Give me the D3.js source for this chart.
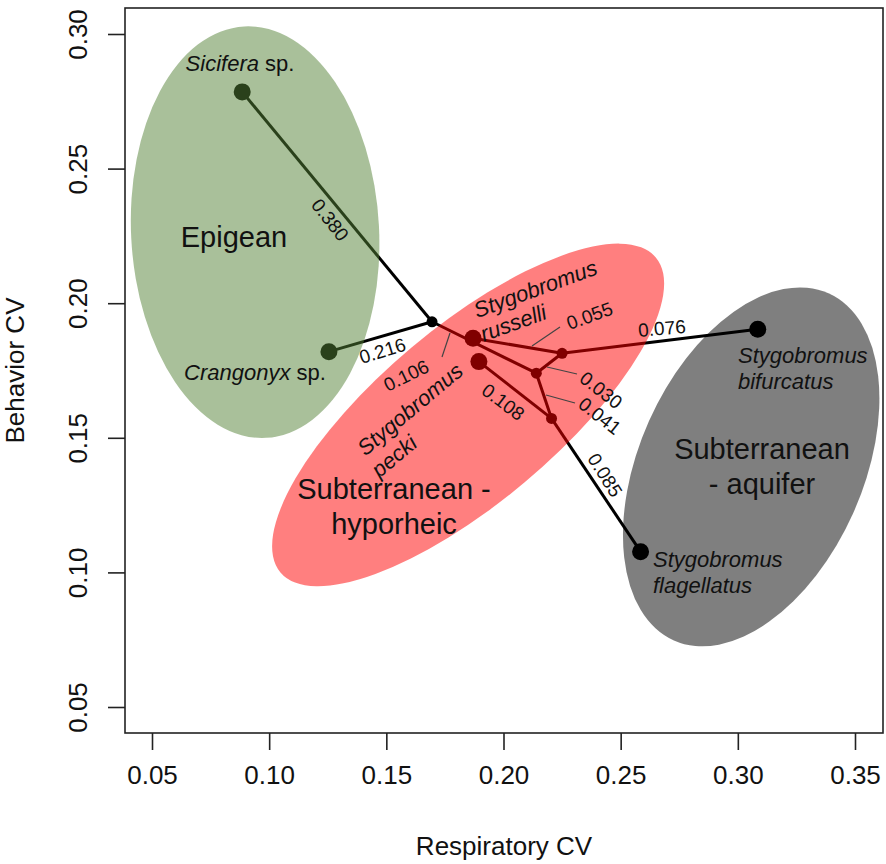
<!DOCTYPE html>
<html>
<head>
<meta charset="utf-8">
<script src="https://cdn.jsdelivr.net/npm/d3@7"></script>
<style>
  body { margin: 0; background: #fff; }
  text { font-family: "Liberation Sans", Arial, sans-serif; }
</style>
</head>
<body>
<div id="chart"></div>
<script>
// tick values
var xTicks = [0.05, 0.10, 0.15, 0.20, 0.25, 0.30, 0.35];
var yTicks = [0.05, 0.10, 0.15, 0.20, 0.25, 0.30];

// tree nodes: respiratory CV, behavior CV
var nodeIds  = ["sicifera", "crangonyx", "J", "russelli", "pecki", "A", "B", "C", "bifurcatus", "flagellatus"];
var respCV   = [0.0885, 0.1255, 0.1695, 0.1870, 0.1895, 0.2250, 0.2140, 0.2205, 0.3085, 0.2585];
var behavCV  = [0.2785, 0.1820, 0.1931, 0.1870, 0.1783, 0.1814, 0.1740, 0.1572, 0.1903, 0.1077];
var isTip    = [true, true, false, true, true, false, false, false, true, true];

// tree edges and branch lengths
var edgeFrom = ["J", "J", "J", "B", "A", "A", "B", "C", "C"];
var edgeTo   = ["sicifera", "crangonyx", "B", "A", "russelli", "bifurcatus", "C", "pecki", "flagellatus"];
var edgeLen  = ["0.380", "0.216", "0.106", "0.030", "0.055", "0.076", "0.041", "0.108", "0.085"];

// habitat groups (centre in data units)
var groupNames = ["Epigean", "Subterranean - hyporheic", "Subterranean - aquifer"];
var groupCx = [0.0940, 0.1849, 0.3057];
var groupCy = [0.2264, 0.1585, 0.1392];

var W = 886, H = 864;
var svg = d3.select("#chart").append("svg").attr("width", W).attr("height", H);

var x = d3.scaleLinear().domain([0.05, 0.35]).range([152, 855]);
var y = d3.scaleLinear().domain([0.05, 0.30]).range([707, 34]);
var box = { l: 125, r: 883, t: 8, b: 733 };

var nodes = {};
nodeIds.forEach(function(id, i) {
  nodes[id] = { x: respCV[i], y: behavCV[i], tip: isTip[i] };
});

// ---- tree (drawn under the shaded groups)
var tree = svg.append("g");
edgeFrom.forEach(function(f, i) {
  var a = nodes[f], b = nodes[edgeTo[i]];
  tree.append("line")
    .attr("x1", x(a.x)).attr("y1", y(a.y))
    .attr("x2", x(b.x)).attr("y2", y(b.y))
    .attr("stroke", "#000").attr("stroke-width", 3);
});
nodeIds.forEach(function(id) {
  var n = nodes[id];
  tree.append("circle")
    .attr("cx", x(n.x)).attr("cy", y(n.y))
    .attr("r", n.tip ? 8.5 : 5.5)
    .attr("fill", "#000");
});

// ---- shaded habitat ellipses (semi-transparent, on top of tree)
var groupStyle = [
  { rx: 124, ry: 206, rot: -3, fill: "rgb(84,130,53)" },
  { rx: 245, ry: 88, rot: -40, fill: "rgb(255,0,0)" },
  { rx: 112, ry: 190, rot: 24, fill: "rgb(0,0,0)" }
];
groupNames.forEach(function(g, i) {
  var s = groupStyle[i];
  svg.append("ellipse")
    .attr("transform", "translate(" + x(groupCx[i]) + "," + y(groupCy[i]) + ") rotate(" + s.rot + ")")
    .attr("rx", s.rx).attr("ry", s.ry)
    .attr("fill", s.fill).attr("fill-opacity", 0.5);
});

// ---- plot frame and axes
svg.append("rect")
  .attr("x", box.l).attr("y", box.t)
  .attr("width", box.r - box.l).attr("height", box.b - box.t)
  .attr("fill", "none").attr("stroke", "#222").attr("stroke-width", 1.6);

var xAxis = svg.append("g").attr("transform", "translate(0," + box.b + ")")
  .call(d3.axisBottom(x).tickValues(xTicks).tickFormat(d3.format(".2f")).tickSize(17).tickPadding(16));
var yAxis = svg.append("g").attr("transform", "translate(" + box.l + ",0)")
  .call(d3.axisLeft(y).tickValues(yTicks).tickFormat(d3.format(".2f")).tickSize(17));
[xAxis, yAxis].forEach(function(ax) {
  ax.select(".domain").remove();
  ax.selectAll(".tick line").attr("stroke", "#222").attr("stroke-width", 1.6);
  ax.selectAll("text").attr("font-size", 26).attr("fill", "#111")
    .attr("font-family", "Liberation Sans, Arial, sans-serif");
});
xAxis.selectAll("text").attr("dy", "0.71em");
yAxis.selectAll("text")
  .attr("x", null).attr("dy", null)
  .attr("text-anchor", "middle")
  .attr("transform", "translate(-38,0) rotate(-90)");

svg.append("text").attr("x", (box.l + box.r) / 2).attr("y", 855)
  .attr("text-anchor", "middle").attr("font-size", 26).attr("fill", "#111")
  .text("Respiratory CV");
svg.append("text")
  .attr("transform", "translate(24," + (box.t + box.b) / 2 + ") rotate(-90)")
  .attr("text-anchor", "middle").attr("font-size", 26).attr("fill", "#111")
  .text("Behavior CV");

// ---- branch length labels (pixel offsets from edge midpoint)
var edgeLabelPos = {
  "0.380": { dx: -7, dy: 13, rot: 52 },
  "0.216": { dx: 2, dy: 14, rot: -17 },
  "0.106": { dx: -78, dy: 28, rot: -26, leader: [[442, 357], [450, 333]] },
  "0.030": { dx: 52, dy: 27, rot: 38, leader: [[547, 367], [577, 374]] },
  "0.055": { dx: 72, dy: -30, rot: -20, leader: [[532, 346], [560, 327]] },
  "0.076": { dx: 2, dy: -13, rot: -5 },
  "0.041": { dx: 56, dy: 20, rot: 38 },
  "0.108": { dx: -12, dy: 12, rot: 37 },
  "0.085": { dx: 9, dy: -10, rot: 58 }
};
edgeLabelPos["0.041"].leader = [[546, 395], [575, 403]];

edgeFrom.forEach(function(f, i) {
  var a = nodes[f], b = nodes[edgeTo[i]];
  var p = edgeLabelPos[edgeLen[i]];
  var mx = (x(a.x) + x(b.x)) / 2 + p.dx, my = (y(a.y) + y(b.y)) / 2 + p.dy;
  if (p.leader) {
    svg.append("line")
      .attr("x1", p.leader[0][0]).attr("y1", p.leader[0][1])
      .attr("x2", p.leader[1][0]).attr("y2", p.leader[1][1])
      .attr("stroke", "#444").attr("stroke-width", 1.2);
  }
  svg.append("text")
    .attr("transform", "translate(" + mx + "," + my + ") rotate(" + p.rot + ")")
    .attr("text-anchor", "middle").attr("dy", "0.35em")
    .attr("font-size", 19).attr("fill", "#111")
    .text(edgeLen[i]);
});

// ---- species labels
function speciesLabel(px, py, rot, anchor, lines) {
  var t = svg.append("text")
    .attr("transform", "translate(" + px + "," + py + ") rotate(" + rot + ")")
    .attr("text-anchor", anchor).attr("font-size", 22).attr("fill", "#111");
  lines.forEach(function(ln, k) {
    var row = t.append("tspan").attr("x", 0).attr("dy", k === 0 ? 0 : 26);
    row.append("tspan").attr("font-style", "italic").text(ln[0]);
    if (ln[1]) row.append("tspan").text(ln[1]);
  });
}
speciesLabel(240, 71, 0, "middle", [["Sicifera", " sp."]]);
speciesLabel(255, 380, 0, "middle", [["Crangonyx", " sp."]]);
speciesLabel(538, 296, -20, "middle", [["Stygobromus"]]);
speciesLabel(516, 330, -20, "middle", [["russelli"]]);
speciesLabel(415, 415, -40, "middle", [["Stygobromus"]]);
speciesLabel(399, 462, -40, "middle", [["pecki"]]);
speciesLabel(738, 363, 0, "start", [["Stygobromus"], ["bifurcatus"]]);
speciesLabel(653, 567, 0, "start", [["Stygobromus"], ["flagellatus"]]);

// ---- habitat names
function groupLabel(px, py, lines) {
  var t = svg.append("text").attr("text-anchor", "middle")
    .attr("font-family", "Lato, 'Open Sans', sans-serif")
    .attr("font-size", 29).attr("fill", "#111");
  lines.forEach(function(ln, k) {
    t.append("tspan").attr("x", px).attr("y", py + k * 35).text(ln);
  });
}
groupLabel(234, 247, ["Epigean"]);
groupLabel(394, 499, ["Subterranean -", "hyporheic"]);
groupLabel(762, 459, ["Subterranean", "- aquifer"]);
</script>
</body>
</html>
